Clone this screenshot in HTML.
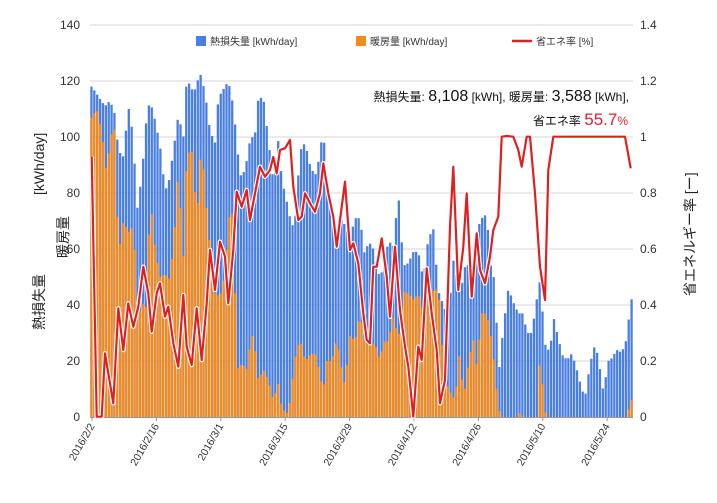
<!DOCTYPE html>
<html><head><meta charset="utf-8"><style>
html,body{margin:0;padding:0;background:#fff;}
body{width:717px;height:498px;overflow:hidden;font-family:"Liberation Sans","Noto Sans CJK JP",sans-serif;}
</style></head><body>
<svg id="c" width="717" height="498" xmlns="http://www.w3.org/2000/svg" font-family="Liberation Sans, Noto Sans CJK JP, sans-serif">
<g id="grid" stroke="#d6d6d6" stroke-width="1"></g>
<g id="bars"></g>
<g id="line"></g>
<g id="labels" font-size="12" fill="#333"></g>
<rect x="196" y="36" width="10" height="10" fill="#4a7fe2"/>
<text x="210" y="45" font-size="10" fill="#333">熱損失量 [kWh/day]</text>
<rect x="356" y="36" width="10" height="10" fill="#f28a1e"/>
<text x="370" y="45" font-size="10" fill="#333">暖房量 [kWh/day]</text>
<line x1="512" y1="41" x2="532" y2="41" stroke="#e02020" stroke-width="2.5"/>
<text x="536" y="45" font-size="10" fill="#333">省エネ率 [%]</text>
<text x="629" y="101" font-size="12" fill="#111" text-anchor="end">熱損失量: <tspan font-size="16">8,108</tspan> [kWh], 暖房量: <tspan font-size="16">3,588</tspan> [kWh],</text>
<text x="628" y="125" font-size="12" fill="#111" text-anchor="end">省エネ率 <tspan font-size="17" fill="#e02030">55.7</tspan><tspan fill="#e02030">%</tspan></text>
<text transform="translate(44,330) rotate(-90)" font-size="14" fill="#222">熱損失量</text>
<text transform="translate(44,195) rotate(-90)" font-size="14" fill="#222">[kWh/day]</text>
<text transform="translate(68,258) rotate(-90)" font-size="14" fill="#222">暖房量</text>
<text transform="translate(695,296) rotate(-90)" font-size="14" fill="#222">省エネルギー率  [ー]</text>
</svg>
<script>
var NS="http://www.w3.org/2000/svg";
function el(t,a,p){var e=document.createElementNS(NS,t);for(var k in a)e.setAttribute(k,a[k]);p.appendChild(e);return e;}
var grid=document.getElementById('grid'),lab=document.getElementById('labels');
for(var v=0;v<=140;v+=20){var y=417-v*2.8;
 if(v>0)el('line',{x1:90,x2:633,y1:y,y2:y},grid);
 var t=el('text',{x:80,y:y+4,'text-anchor':'end'},lab);t.textContent=v;
 var t2=el('text',{x:640,y:y+4},lab);t2.textContent=(v===0?'0':(v===100?'1':(v/100).toString()));}
el('line',{x1:90,x2:633,y1:417.5,y2:417.5,stroke:'#999'},grid);
var dates=['2016/2/2','2016/2/16','2016/3/1','2016/3/15','2016/3/29','2016/4/12','2016/4/26','2016/5/10','2016/5/24'];
for(var i=0;i<dates.length;i++){var x=92+i*64.4;
 el('line',{x1:x,x2:x,y1:417,y2:421,stroke:'#999'},grid);
 var t=el('text',{transform:'translate('+(x+3)+',426) rotate(-60)','text-anchor':'end','font-size':'10.5'},lab);t.textContent=dates[i];}
function interp(k,x){if(x<=k[0])return k[1];for(var i=0;i<k.length-2;i+=2){if(x>=k[i]&&x<=k[i+2]){var f=(x-k[i])/(k[i+2]-k[i]);return k[i+1]+f*(k[i+3]-k[i+1]);}}return k[k.length-1];}
var B=[90,118,91.7,118,105,111,110,113,115,108,118.3,95,123.3,93,128.3,111,133.3,100,136.7,73,141.7,86,146.7,108,150,113,155,106,160,97,165,81,168.3,83,173.3,95,178.3,108,183.3,100,186.7,121,191.7,117,195,117,200,123,205,116,210,102,215,98,218.3,114,223.3,117,228.3,120,233.3,111,240,86,245,88,250,99,255,101,258.3,114,263.3,114,268.3,99,273.3,84,278.3,99,281.7,85,286.7,77,291.7,68,295,70,300,95,305,98,310,90,315,86,318.3,91,323.3,103,326.7,82,331.7,76,336.7,64,341.7,72,345,68,350,64,355,71,360,71,365,57,368.3,63,373.3,60,378.3,51,383.3,52,388.3,63,393.3,61,398.3,80,403.3,54,408.3,55,413.3,59,418.3,59,423.3,49,428.3,64,433.3,67,438.3,45,448.3,35,453.3,56,460,44,466.7,57,471.7,44,476.7,67,483.3,72,486.7,72,491.7,50,495,50,498.3,14,503.3,32,508.3,46,513.3,41,518.3,37,523.3,37,526.7,30,531.7,30,536.7,42,540,49,545,26,550,23,553.3,36,558.3,28,563.3,21,570,21,571.7,23,576.7,17,581.7,10,585,7,590,19,595,26,598.3,21,603.3,9,608.3,20,611.7,21,616.7,24,621.7,23,626.7,28,630.7,42];
var O=[90,106,96.7,110,101.7,102,106.7,86,110,100,115,103,118.3,57,123.3,70,128.3,66,133.3,68,138.3,34,141.7,41,146.7,39,150,79,155,60,160,50,165,51,170,49,175,69,178.3,88,183.3,57,186.7,93,191.7,96,196.7,71,201.7,98,205,80,210,60,215,44,220,43,225,51,228.3,71,233.3,73,236.7,17,241.7,19,246.7,17,251.7,30,255,24,258.3,13,263.3,17,268.3,13,273.3,6,278.3,12,281.7,3,288.3,1,295,21,300,28,305,20,310,22,315,23,318.3,18,323.3,9,326.7,20,331.7,20,336.7,28,341.7,17,345,11,350,29,355,27,360,37,365,26,370,26,375,26,380,20,383.3,27,388.3,27,393.3,36,398.3,28,403.3,45,408.3,44,413.3,42,418.3,44,423.3,37,428.3,46,433.3,45,438.3,46,443.3,18,448.3,10,455,6,460,25,463.3,6,468.3,19,473.3,28,476.7,18,481.7,37,486.7,37,491.7,27,495,16,498.3,3,501.7,0,518.3,0,520,2,523.3,0,536.7,0,540,21,545,2,546.7,0,627,0,630.7,6];
var bars=document.getElementById('bars');var N=189,p=(633-90)/N;
for(var i=0;i<N;i++){var x=90+i*p+0.3,cx=x+1.1;var b=interp(B,cx),o=Math.min(interp(O,cx),b);
 el('rect',{x:x.toFixed(2),y:(417-b*2.8).toFixed(1),width:2.3,height:(b*2.8).toFixed(1),fill:'#4a7fe2'},bars);
 if(o>0.3)el('rect',{x:x.toFixed(2),y:(417-o*2.8).toFixed(1),width:2.3,height:(o*2.8).toFixed(1),fill:'#f28a1e'},bars);}
var L="91.7,156.7 96.7,416.7 101.7,416.7 105,353.3 113.3,403.3 118.3,308.3 123.3,350 128.3,303.3 133.3,326.7 138.3,306.7 143.3,266.7 148.3,293.3 151.7,331.7 156.7,293.3 160,283.3 165,316.7 168.3,306.7 173.3,343.3 178.3,366.7 183.3,295 186.7,346.7 191.7,365 196.7,308.3 201.7,360 206.7,303.3 210,250 215,290 220,241.7 225,256.7 228.3,303.3 233.3,250 236.7,191.7 241.7,206.7 246.7,190 250,220 255,193.3 260,166.7 265,176.7 270,170 273.3,157 276.7,173.3 280,150 285,148.3 290,140 293.3,186.7 298.3,220 301.7,216.7 305,193.3 310,203.3 315,211.7 320,193.3 323.3,163.3 328.3,193.3 333.3,216.7 336.7,246.7 340,220 345,181.7 350,250 353.3,243.3 358.3,263.3 363.3,313.3 366.7,340 370,343.3 373.3,266.7 376.7,266.7 381.7,238.3 386.7,276.7 390,316.7 395,246.7 400,310 405,346.7 408.3,366.7 413.3,416.7 418.3,346.7 421.7,360 426.7,268.3 431.7,313.3 436.7,350 440,403.3 445,380 450,226.7 453.3,166.7 458.3,290 463.3,246.7 466.7,193.3 471.7,296.7 476.7,233.3 480,270 485,283.3 490,256.7 493.3,230 498.3,216.7 501.7,136.7 506.7,136 513.3,136.7 518.3,150 521.7,166.7 526.7,136.7 530,136.7 535,193.3 540,266.7 545,300 548.3,170 553.3,136.7 625,136.7 630.7,168.3";
var lg=document.getElementById('line');
el('polyline',{points:L,fill:'none',stroke:'#fff','stroke-width':4.5,'stroke-linejoin':'round'},lg);
el('polyline',{points:L,fill:'none',stroke:'#e02020','stroke-width':2.2,'stroke-linejoin':'round'},lg);
</script>
</body></html>
